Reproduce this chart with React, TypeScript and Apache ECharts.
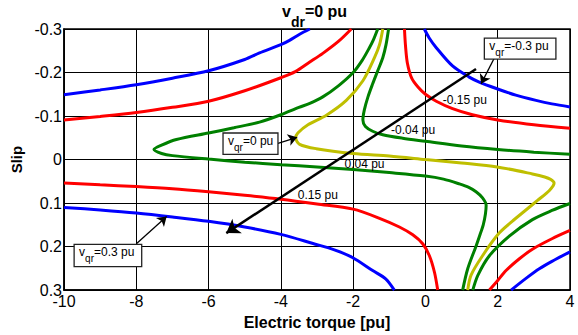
import React, { useEffect, useRef } from "react";
import * as echarts from "echarts";

// ---- data (torque [pu], slip) ----
const xTickValues = [-10, -8, -6, -4, -2, 0, 2, 4];
const slipTickValues = [-0.3, -0.2, -0.1, 0, 0.1, 0.2, 0.3];

// v_qr = +0.3 pu (blue)
const vqrPos030Upper = [[-10, -0.149], [-9, -0.16], [-8, -0.172], [-7, -0.187], [-6, -0.204], [-5, -0.23], [-4.59, -0.245], [-4, -0.264], [-3.76, -0.274], [-3.48, -0.288], [-3.2, -0.3]];
const vqrPos030Lower = [[-10, 0.11], [-9, 0.116], [-8, 0.123], [-7, 0.132], [-6, 0.142], [-5, 0.155], [-4, 0.172], [-3.11, 0.193], [-2.5, 0.208], [-2.02, 0.225], [-1.46, 0.255], [-1.1, 0.274], [-0.86, 0.3]];
// v_qr = -0.3 pu (blue)
const vqrNeg030Upper = [[-0.03, -0.3], [0.1, -0.28], [0.3, -0.257], [0.75, -0.215], [1.2, -0.19], [1.49, -0.178], [1.97, -0.163], [2.5, -0.148], [3.06, -0.136], [3.5, -0.128], [4, -0.121]];
const vqrNeg030Lower = [[2.37, 0.3], [2.8, 0.272], [3.15, 0.251], [3.5, 0.234], [4, 0.212]];
// v_qr = +0.15 pu (red)
const vqrPos015Upper = [[-10, -0.091], [-9, -0.099], [-8, -0.108], [-7, -0.12], [-6, -0.134], [-5, -0.158], [-4, -0.188], [-3.6, -0.202], [-3.2, -0.224], [-2.84, -0.244], [-2.4, -0.272], [-2.05, -0.3]];
const vqrPos015Lower = [[-10, 0.054], [-9, 0.058], [-8, 0.062], [-7, 0.067], [-6, 0.074], [-5, 0.082], [-4, 0.091], [-3, 0.102], [-2, 0.114], [-1.27, 0.135], [-0.72, 0.155], [-0.35, 0.173], [-0.07, 0.194], [0.11, 0.221], [0.25, 0.259], [0.34, 0.3]];
// v_qr = -0.15 pu (red)
const vqrNeg015Upper = [[-0.58, -0.3], [-0.55, -0.26], [-0.5, -0.222], [-0.38, -0.187], [-0.2, -0.166], [0, -0.15], [0.3, -0.134], [0.75, -0.117], [1.3, -0.103], [2, -0.091], [3, -0.08], [4, -0.072]];
const vqrNeg015Lower = [[1.77, 0.3], [2.0, 0.278], [2.23, 0.255], [2.6, 0.228], [2.96, 0.206], [3.5, 0.182], [4, 0.163]];
// v_qr = +0.04 pu (green)
const vqrPos004 = [[-1.32, -0.3], [-1.44, -0.275], [-1.55, -0.257], [-1.75, -0.228], [-2.0, -0.2], [-2.4, -0.17], [-2.84, -0.144], [-3.2, -0.129], [-3.5, -0.12], [-4.0, -0.103], [-4.59, -0.086], [-5.3, -0.073], [-6.0, -0.061], [-6.89, -0.046], [-7.3, -0.033], [-7.51, -0.023], [-7.3, -0.014], [-7.0, -0.009], [-6.0, -0.001], [-5, 0.006], [-4, 0.012], [-3, 0.017], [-2, 0.023], [-1, 0.03], [0, 0.038], [0.5, 0.045], [0.94, 0.056], [1.2, 0.064], [1.4, 0.074], [1.58, 0.088], [1.68, 0.105], [1.66, 0.125], [1.6, 0.15], [1.5, 0.175], [1.4, 0.199], [1.17, 0.251], [1.03, 0.3]];
// v_qr = -0.04 pu (green)
const vqrNeg004Upper = [[-1.02, -0.3], [-1.09, -0.264], [-1.18, -0.234], [-1.32, -0.204], [-1.46, -0.174], [-1.59, -0.144], [-1.69, -0.114], [-1.73, -0.091], [-1.66, -0.076], [-1.46, -0.065], [-1.18, -0.057], [-0.63, -0.049], [0, -0.042], [1, -0.031], [2, -0.023], [3, -0.017], [4, -0.012]];
const vqrNeg004Lower = [[1.31, 0.3], [1.45, 0.266], [1.77, 0.221], [2.32, 0.176], [2.96, 0.138], [3.5, 0.117], [4, 0.101]];
// v_qr = 0 pu (yellow)
const vqrZero = [[-1.18, -0.3], [-1.27, -0.264], [-1.41, -0.234], [-1.73, -0.181], [-2.19, -0.136], [-2.74, -0.102], [-3.25, -0.08], [-3.53, -0.061], [-3.59, -0.05], [-3.48, -0.035], [-3.02, -0.025], [-2, -0.014], [-1, -0.008], [0, 0], [1, 0.008], [1.98, 0.017], [2.96, 0.033], [3.3, 0.04], [3.47, 0.046], [3.56, 0.054], [3.43, 0.071], [3.1, 0.094], [2.78, 0.116], [2.4, 0.142], [2.04, 0.169], [1.58, 0.221], [1.26, 0.266], [1.17, 0.3]];

// annotations (data coordinates)
const curveLabelTexts = ["-0.15 pu", "-0.04 pu", "0.04 pu", "0.15 pu"];
const curveLabelAt = [[0.48, -0.136], [-0.95, -0.068], [-2.24, 0.011], [-3.53, 0.082]];
const boxTexts = ["=-0.3 pu", "=0 pu", "=0.3 pu"];
const boxCorners = [
  [[1.63, -0.279], [3.61, -0.231]],
  [[-5.6, -0.061], [-4.08, -0.012]],
  [[-9.72, 0.195], [-7.85, 0.246]],
];
const arrowSegments = [
  [[1.4, -0.208], [-5.51, 0.169]],
  [[1.91, -0.234], [1.54, -0.174]],
  [[-4.08, -0.037], [-3.55, -0.051]],
  [[-7.99, 0.193], [-7.16, 0.131]],
];

const FONT = "'Liberation Sans', Arial, Helvetica, sans-serif";
const BLUE = "#0000ff";
const RED = "#ff0000";
const GREEN = "#008000";
const YELLOW = "#bfbf00";

export default function App() {
  const ref = useRef<HTMLDivElement>(null);

  useEffect(() => {
    const chart = echarts.init(ref.current as HTMLDivElement, null, { renderer: "svg" });

    const curve = (name: string, data: number[][], color: string) => ({
      type: "line",
      name,
      data,
      showSymbol: false,
      smooth: 0.3,
      silent: true,
      z: 3,
      lineStyle: { color, width: 3 },
      itemStyle: { color },
    });

    const arrowSeries = arrowSegments.map((seg, i) => ({
      type: "line",
      name: "arrow" + i,
      data: [],
      silent: true,
      z: 5,
      markLine: {
        silent: true,
        animation: false,
        symbol: ["none", "arrow"],
        symbolSize: i === 0 ? 13 : 9,
        label: { show: false },
        lineStyle: { color: "#000", type: "solid", width: i === 0 ? 2.5 : 1.3 },
        emphasis: { disabled: true },
        data: [[{ coord: seg[0] }, { coord: seg[1] }]],
      },
    }));

    chart.setOption({
      animation: false,
      backgroundColor: "#fff",
      title: {
        text: "{m|v}{s|dr}{m|=0 pu}",
        left: 282,
        top: 3,
        padding: 0,
        textStyle: {
          rich: {
            m: { fontSize: 16, fontWeight: "bold", fontFamily: FONT, color: "#000", lineHeight: 18, verticalAlign: "top" },
            s: { fontSize: 14, fontWeight: "bold", fontFamily: FONT, color: "#000", lineHeight: 37, verticalAlign: "middle" },
          },
        },
      },
      grid: { left: 64, right: 8, top: 29, bottom: 40, show: true, borderColor: "#000", borderWidth: 1.5, backgroundColor: "#fff" },
      xAxis: {
        type: "value",
        min: xTickValues[0],
        max: xTickValues[xTickValues.length - 1],
        interval: 2,
        name: "Electric torque [pu]",
        nameLocation: "middle",
        nameGap: 20,
        nameTextStyle: { fontSize: 16, fontWeight: "bold", fontFamily: FONT, color: "#000" },
        axisLine: { show: true, onZero: false, lineStyle: { color: "#000", width: 1.5 } },
        axisTick: { show: false },
        splitLine: { show: true, lineStyle: { color: "#000", width: 1 } },
        axisLabel: { fontSize: 16, fontFamily: FONT, color: "#000", margin: 3 },
      },
      yAxis: {
        type: "value",
        inverse: true,
        min: slipTickValues[0],
        max: slipTickValues[slipTickValues.length - 1],
        interval: 0.1,
        name: "Slip",
        nameLocation: "middle",
        nameGap: 37,
        nameTextStyle: { fontSize: 15, fontWeight: "bold", fontFamily: FONT, color: "#000" },
        axisLine: { show: true, onZero: false, lineStyle: { color: "#000", width: 1.5 } },
        axisTick: { show: false },
        splitLine: { show: true, lineStyle: { color: "#000", width: 1 } },
        axisLabel: {
          fontSize: 16,
          fontFamily: FONT,
          color: "#000",
          margin: 2,
          formatter: (v: number) => String(+v.toFixed(1)),
        },
      },
      series: [
        curve("v_qr=0.3 pu (upper)", vqrPos030Upper, BLUE),
        curve("v_qr=0.3 pu (lower)", vqrPos030Lower, BLUE),
        curve("v_qr=-0.3 pu (upper)", vqrNeg030Upper, BLUE),
        curve("v_qr=-0.3 pu (lower)", vqrNeg030Lower, BLUE),
        curve("v_qr=0.15 pu (upper)", vqrPos015Upper, RED),
        curve("v_qr=0.15 pu (lower)", vqrPos015Lower, RED),
        curve("v_qr=-0.15 pu (upper)", vqrNeg015Upper, RED),
        curve("v_qr=-0.15 pu (lower)", vqrNeg015Lower, RED),
        curve("v_qr=0.04 pu", vqrPos004, GREEN),
        curve("v_qr=-0.04 pu (upper)", vqrNeg004Upper, GREEN),
        curve("v_qr=-0.04 pu (lower)", vqrNeg004Lower, GREEN),
        curve("v_qr=0 pu", vqrZero, YELLOW),
        ...arrowSeries,
      ],
    });

    const px = (p: number[]) => chart.convertToPixel({ gridIndex: 0 }, p) as number[];

    const graphics: any[] = [];
    curveLabelTexts.forEach((t, i) => {
      const [x, y] = px(curveLabelAt[i]);
      graphics.push({
        type: "text",
        z: 10,
        silent: true,
        style: { text: t, x, y, fontSize: 12, fontFamily: FONT, fill: "#000", align: "left", verticalAlign: "middle", textAlign: "left", textVerticalAlign: "middle" },
      });
    });
    boxTexts.forEach((t, i) => {
      const [x0, y0] = px(boxCorners[i][0]);
      const [x1, y1] = px(boxCorners[i][1]);
      graphics.push({
        type: "rect",
        z: 10,
        silent: true,
        shape: { x: x0, y: y0, width: x1 - x0, height: y1 - y0 },
        style: { fill: "#fff", stroke: "#222", lineWidth: 1.3 },
      });
      graphics.push({
        type: "text",
        z: 11,
        silent: true,
        style: {
          text: "{m|v}{s|qr}{m|" + t + "}",
          x: x0 + 5,
          y: y0 + 2,
          align: "left",
          verticalAlign: "top",
          textAlign: "left",
          textVerticalAlign: "top",
          rich: {
            m: { fontSize: 12, fontFamily: FONT, fill: "#000", color: "#000", lineHeight: 14, verticalAlign: "top" },
            s: { fontSize: 10, fontFamily: FONT, fill: "#000", color: "#000", lineHeight: 25, verticalAlign: "middle" },
          },
        },
      });
    });
    chart.setOption({ graphic: graphics });

    return () => chart.dispose();
  }, []);

  return <div ref={ref} style={{ width: 578, height: 335, position: "absolute", left: 0, top: 0 }} />;
}
